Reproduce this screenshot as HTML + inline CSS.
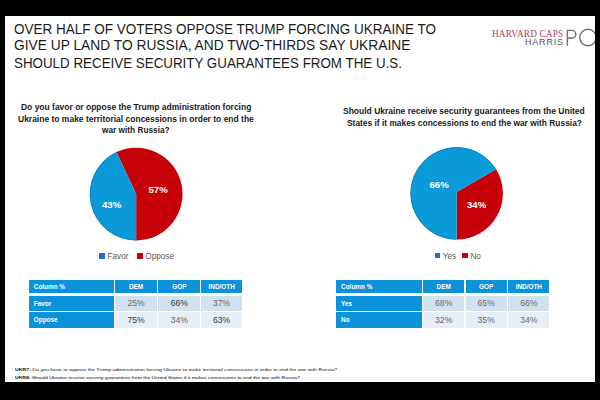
<!DOCTYPE html>
<html><head><meta charset="utf-8">
<style>
html,body{margin:0;padding:0;}
body{width:600px;height:400px;background:#000;position:relative;overflow:hidden;font-family:"Liberation Sans",sans-serif;}
.t{position:absolute;white-space:nowrap;transform-origin:0 0;line-height:1;}
.r{position:absolute;}
</style></head><body>
<div class="r" style="left:5px;top:16px;width:590px;height:366px;background:#fff;"></div>

<div class="t" style="left:13.8px;top:20.6px;font-size:15px;color:#1b1b1b;font-weight:normal;transform:scaleX(0.9);">OVER HALF OF VOTERS OPPOSE TRUMP FORCING UKRAINE TO</div>
<div class="t" style="left:13.8px;top:37.0px;font-size:15px;color:#1b1b1b;font-weight:normal;transform:scaleX(0.918);">GIVE UP LAND TO RUSSIA, AND TWO-THIRDS SAY UKRAINE</div>
<div class="t" style="left:13.8px;top:54.7px;font-size:15px;color:#1b1b1b;font-weight:normal;transform:scaleX(0.891);">SHOULD RECEIVE SECURITY GUARANTEES FROM THE U.S.</div>
<div class="t" style="left:492.2px;top:29.4px;font-size:10px;color:#b03e58;font-weight:normal;transform:scaleX(0.93);font-family:'Liberation Serif',serif;letter-spacing:0.15px;">HARVARD CAPS</div>
<div class="t" style="left:525px;top:38.2px;font-size:9px;color:#555555;font-weight:normal;letter-spacing:0.8px;">HARRIS</div>
<svg class="r" style="left:0;top:0" width="600" height="400"><path d="M567.4 45.7 V30.4 H572 A3.8 3.8 0 0 1 572 38 H567.4" fill="none" stroke="#6e6e6e" stroke-width="1.4"/><ellipse cx="588" cy="37.5" rx="8.3" ry="8.3" fill="none" stroke="#6e6e6e" stroke-width="1.4"/></svg>
<div class="t" style="left:21px;top:103.3px;font-size:9px;color:#1a1a1a;font-weight:bold;transform:scaleX(0.942);">Do you favor or oppose the Trump administration forcing</div>
<div class="t" style="left:18.3px;top:115.2px;font-size:9px;color:#1a1a1a;font-weight:bold;transform:scaleX(0.943);">Ukraine to make territorial concessions in order to end the</div>
<div class="t" style="left:102px;top:126px;font-size:9px;color:#1a1a1a;font-weight:bold;transform:scaleX(0.92);">war with Russia?</div>
<div class="t" style="left:343.3px;top:107.3px;font-size:9px;color:#1a1a1a;font-weight:bold;transform:scaleX(0.944);">Should Ukraine receive security guarantees from the United</div>
<div class="t" style="left:347px;top:118.8px;font-size:9px;color:#1a1a1a;font-weight:bold;transform:scaleX(0.932);">States if it makes concessions to end the war with Russia?</div>
<svg class="r" style="left:0;top:0" width="600" height="400"><path d="M136.15 194.05 L116.39 152.07 A46.4 46.4 0 1 1 136.15 240.45 Z" fill="#c60008"/><path d="M136.15 194.05 L136.15 240.45 A46.4 46.4 0 0 1 116.39 152.07 Z" fill="#0b9ad8"/><path d="M136.15 239.95 A45.9 45.9 0 0 1 116.61 152.52" fill="none" stroke="#0a86d0" stroke-width="1"/><path d="M456.70 191.90 L496.13 169.33 A46.2 46.2 0 0 1 456.70 239.60 Z" fill="#c60008"/><path d="M456.70 191.90 L456.70 239.60 A46.2 46.2 0 1 1 496.13 169.33 Z" fill="#0b9ad8"/><path d="M456.70 239.10 A45.7 45.7 0 1 1 495.71 169.59" fill="none" stroke="#0a86d0" stroke-width="1"/></svg>
<div class="t" style="left:102px;top:200px;font-size:9.6px;color:#fff;font-weight:bold;">43%</div>
<div class="t" style="left:148.5px;top:184.6px;font-size:9.6px;color:#fff;font-weight:bold;">57%</div>
<div class="t" style="left:429.5px;top:180px;font-size:9.6px;color:#fff;font-weight:bold;">66%</div>
<div class="t" style="left:467px;top:200px;font-size:9.6px;color:#fff;font-weight:bold;">34%</div>
<div class="r" style="left:99.3px;top:253.3px;width:5.7px;height:5.7px;background:#1f6fd0"></div>
<div class="t" style="left:107.5px;top:253px;font-size:8.2px;color:#595959;font-weight:normal;">Favor</div>
<div class="r" style="left:137.2px;top:253.3px;width:5.5px;height:5.7px;background:#c00010"></div>
<div class="t" style="left:145.3px;top:253px;font-size:8.2px;color:#595959;font-weight:normal;">Oppose</div>
<div class="r" style="left:434.9px;top:252.8px;width:5.5px;height:5.5px;background:#1f6fd0"></div>
<div class="t" style="left:442.7px;top:252.5px;font-size:8.2px;color:#595959;font-weight:normal;">Yes</div>
<div class="r" style="left:462.2px;top:252.8px;width:5.5px;height:5.5px;background:#c00010"></div>
<div class="t" style="left:470.4px;top:252.5px;font-size:8.2px;color:#595959;font-weight:normal;">No</div>
<div class="r" style="left:29px;top:280px;width:85px;height:13px;background:#0b92d8"></div>
<div class="r" style="left:115.3px;top:280px;width:41.5px;height:13px;background:#0b92d8"></div>
<div class="r" style="left:158.3px;top:280px;width:42px;height:13px;background:#0b92d8"></div>
<div class="r" style="left:201.3px;top:280px;width:40.7px;height:13px;background:#0b92d8"></div>
<div class="r" style="left:29px;top:295.7px;width:85px;height:15px;background:#0b92d8"></div>
<div class="r" style="left:115.3px;top:295.7px;width:41.5px;height:15px;background:#d0e1ef"></div>
<div class="r" style="left:158.3px;top:295.7px;width:42px;height:15px;background:#d0e1ef"></div>
<div class="r" style="left:201.3px;top:295.7px;width:40.7px;height:15px;background:#d0e1ef"></div>
<div class="r" style="left:29px;top:311.7px;width:85px;height:16px;background:#0b92d8"></div>
<div class="r" style="left:115.3px;top:311.7px;width:41.5px;height:16px;background:#e7eef6"></div>
<div class="r" style="left:158.3px;top:311.7px;width:42px;height:16px;background:#e7eef6"></div>
<div class="r" style="left:201.3px;top:311.7px;width:40.7px;height:16px;background:#e7eef6"></div>
<div class="t" style="left:33.8px;top:283.5px;font-size:6.4px;color:#fff;font-weight:bold;">Column %</div>
<div class="t" style="left:96.05000000000001px;width:80px;text-align:center;transform-origin:50% 0;top:283.5px;font-size:6.4px;color:#fff;font-weight:bold;">DEM</div>
<div class="t" style="left:139.3px;width:80px;text-align:center;transform-origin:50% 0;top:283.5px;font-size:6.4px;color:#fff;font-weight:bold;">GOP</div>
<div class="t" style="left:181.65px;width:80px;text-align:center;transform-origin:50% 0;top:283.5px;font-size:6.4px;color:#fff;font-weight:bold;">IND/OTH</div>
<div class="t" style="left:33.8px;top:300.6px;font-size:6.4px;color:#fff;font-weight:bold;">Favor</div>
<div class="t" style="left:33.8px;top:316.5px;font-size:6.4px;color:#fff;font-weight:bold;">Oppose</div>
<div class="t" style="left:96.05000000000001px;width:80px;text-align:center;transform-origin:50% 0;top:298.7px;font-size:8.6px;color:#6a6a6a;font-weight:normal;">25%</div>
<div class="t" style="left:139.3px;width:80px;text-align:center;transform-origin:50% 0;top:298.7px;font-size:8.6px;color:#3a3a3a;font-weight:normal;">66%</div>
<div class="t" style="left:181.65px;width:80px;text-align:center;transform-origin:50% 0;top:298.7px;font-size:8.6px;color:#6a6a6a;font-weight:normal;">37%</div>
<div class="t" style="left:96.05000000000001px;width:80px;text-align:center;transform-origin:50% 0;top:315.9px;font-size:8.6px;color:#3a3a3a;font-weight:normal;">75%</div>
<div class="t" style="left:139.3px;width:80px;text-align:center;transform-origin:50% 0;top:315.9px;font-size:8.6px;color:#6a6a6a;font-weight:normal;">34%</div>
<div class="t" style="left:181.65px;width:80px;text-align:center;transform-origin:50% 0;top:315.9px;font-size:8.6px;color:#3a3a3a;font-weight:normal;">63%</div>
<div class="r" style="left:336.3px;top:280px;width:85.7px;height:13px;background:#0b92d8"></div>
<div class="r" style="left:423.4px;top:280px;width:40.6px;height:13px;background:#0b92d8"></div>
<div class="r" style="left:465.6px;top:280px;width:41.2px;height:13px;background:#0b92d8"></div>
<div class="r" style="left:508.2px;top:280px;width:41.3px;height:13px;background:#0b92d8"></div>
<div class="r" style="left:336.3px;top:295.7px;width:85.7px;height:15px;background:#0b92d8"></div>
<div class="r" style="left:423.4px;top:295.7px;width:40.6px;height:15px;background:#d0e1ef"></div>
<div class="r" style="left:465.6px;top:295.7px;width:41.2px;height:15px;background:#d0e1ef"></div>
<div class="r" style="left:508.2px;top:295.7px;width:41.3px;height:15px;background:#d0e1ef"></div>
<div class="r" style="left:336.3px;top:311.7px;width:85.7px;height:16px;background:#0b92d8"></div>
<div class="r" style="left:423.4px;top:311.7px;width:40.6px;height:16px;background:#e7eef6"></div>
<div class="r" style="left:465.6px;top:311.7px;width:41.2px;height:16px;background:#e7eef6"></div>
<div class="r" style="left:508.2px;top:311.7px;width:41.3px;height:16px;background:#e7eef6"></div>
<div class="t" style="left:341.1px;top:283.5px;font-size:6.4px;color:#fff;font-weight:bold;">Column %</div>
<div class="t" style="left:403.7px;width:80px;text-align:center;transform-origin:50% 0;top:283.5px;font-size:6.4px;color:#fff;font-weight:bold;">DEM</div>
<div class="t" style="left:446.20000000000005px;width:80px;text-align:center;transform-origin:50% 0;top:283.5px;font-size:6.4px;color:#fff;font-weight:bold;">GOP</div>
<div class="t" style="left:488.85px;width:80px;text-align:center;transform-origin:50% 0;top:283.5px;font-size:6.4px;color:#fff;font-weight:bold;">IND/OTH</div>
<div class="t" style="left:341.1px;top:300.6px;font-size:6.4px;color:#fff;font-weight:bold;">Yes</div>
<div class="t" style="left:341.1px;top:316.5px;font-size:6.4px;color:#fff;font-weight:bold;">No</div>
<div class="t" style="left:403.7px;width:80px;text-align:center;transform-origin:50% 0;top:298.7px;font-size:8.6px;color:#6a6a6a;font-weight:normal;">68%</div>
<div class="t" style="left:446.20000000000005px;width:80px;text-align:center;transform-origin:50% 0;top:298.7px;font-size:8.6px;color:#6a6a6a;font-weight:normal;">65%</div>
<div class="t" style="left:488.85px;width:80px;text-align:center;transform-origin:50% 0;top:298.7px;font-size:8.6px;color:#6a6a6a;font-weight:normal;">66%</div>
<div class="t" style="left:403.7px;width:80px;text-align:center;transform-origin:50% 0;top:315.9px;font-size:8.6px;color:#6a6a6a;font-weight:normal;">32%</div>
<div class="t" style="left:446.20000000000005px;width:80px;text-align:center;transform-origin:50% 0;top:315.9px;font-size:8.6px;color:#6a6a6a;font-weight:normal;">35%</div>
<div class="t" style="left:488.85px;width:80px;text-align:center;transform-origin:50% 0;top:315.9px;font-size:8.6px;color:#6a6a6a;font-weight:normal;">34%</div>
<div class="r" style="left:5px;top:377px;width:587px;height:1px;background:#f2f2f2;"></div>
<div class="r" style="left:5px;top:379px;width:587px;height:1px;background:#f2f2f2;"></div>
<div class="t" style="left:14.8px;top:368.4px;font-size:4.4px;color:#111;font-weight:normal;transform:scaleX(1.183);"><b>UKR7:</b> Do you favor or oppose the Trump administration forcing Ukraine to make territorial concessions in order to end the war with Russia?</div>
<div class="t" style="left:14.8px;top:375.7px;font-size:4.4px;color:#111;font-weight:normal;transform:scaleX(1.158);"><b>UKR8:</b> Should Ukraine receive security guarantees from the United States if it makes concessions to end the war with Russia?</div>
<div class="r" style="left:595px;top:0;width:5px;height:400px;background:#000"></div>
</body></html>
